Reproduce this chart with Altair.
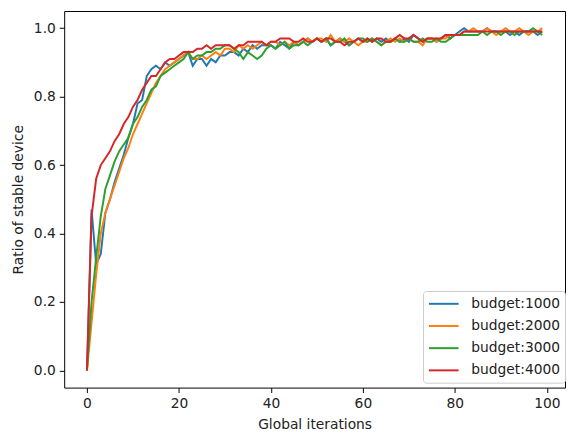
import altair as alt
import pandas as pd

iterations = list(range(100))

budget_1000 = [
    0.00, 0.47, 0.31, 0.34, 0.46, 0.50, 0.55, 0.59, 0.63, 0.68,
    0.72, 0.78, 0.79, 0.86, 0.88, 0.89, 0.88, 0.90, 0.89, 0.90,
    0.91, 0.92, 0.93, 0.89, 0.91, 0.91, 0.89, 0.91, 0.90, 0.92,
    0.92, 0.93, 0.93, 0.92, 0.94, 0.93, 0.95, 0.94, 0.95, 0.95,
    0.95, 0.94, 0.96, 0.95, 0.94, 0.96, 0.95, 0.96, 0.97, 0.96,
    0.97, 0.96, 0.97, 0.95, 0.96, 0.97, 0.96, 0.95, 0.96, 0.97,
    0.96, 0.97, 0.96, 0.97, 0.96, 0.97, 0.96, 0.97, 0.96, 0.97,
    0.96, 0.98, 0.97, 0.96, 0.97, 0.97, 0.96, 0.97, 0.98, 0.97,
    0.98, 0.99, 1.00, 0.99, 0.99, 0.99, 0.99, 1.00, 0.99, 0.99,
    0.99, 0.99, 0.98, 0.99, 0.98, 0.99, 0.99, 0.99, 0.98, 0.99,
]
budget_2000 = [
    0.00, 0.14, 0.28, 0.40, 0.46, 0.50, 0.54, 0.58, 0.62, 0.65,
    0.69, 0.72, 0.75, 0.78, 0.81, 0.84, 0.86, 0.88, 0.89, 0.90,
    0.91, 0.92, 0.93, 0.91, 0.91, 0.92, 0.91, 0.92, 0.93, 0.92,
    0.94, 0.94, 0.93, 0.95, 0.94, 0.95, 0.94, 0.95, 0.96, 0.95,
    0.96, 0.96, 0.95, 0.96, 0.95, 0.96, 0.95, 0.96, 0.97, 0.96,
    0.97, 0.97, 0.96, 0.98, 0.96, 0.97, 0.96, 0.97, 0.96, 0.95,
    0.96, 0.96, 0.97, 0.96, 0.95, 0.96, 0.97, 0.96, 0.97, 0.96,
    0.97, 0.96, 0.96, 0.95, 0.97, 0.97, 0.96, 0.97, 0.97, 0.98,
    0.98, 0.98, 0.99, 0.99, 1.00, 0.99, 0.99, 1.00, 0.99, 0.98,
    0.99, 1.00, 0.99, 0.99, 1.00, 0.99, 0.98, 0.99, 0.99, 1.00,
]
budget_3000 = [
    0.00, 0.20, 0.33, 0.45, 0.53, 0.57, 0.61, 0.64, 0.66, 0.68,
    0.72, 0.74, 0.77, 0.79, 0.82, 0.83, 0.86, 0.87, 0.88, 0.89,
    0.90, 0.91, 0.93, 0.91, 0.92, 0.92, 0.93, 0.93, 0.94, 0.94,
    0.95, 0.95, 0.94, 0.93, 0.91, 0.93, 0.92, 0.91, 0.92, 0.94,
    0.95, 0.94, 0.95, 0.96, 0.94, 0.95, 0.95, 0.96, 0.95, 0.96,
    0.97, 0.96, 0.97, 0.95, 0.96, 0.96, 0.97, 0.95, 0.96, 0.97,
    0.97, 0.96, 0.97, 0.96, 0.95, 0.96, 0.96, 0.97, 0.96, 0.96,
    0.97, 0.96, 0.96, 0.97, 0.96, 0.96, 0.97, 0.96, 0.96, 0.97,
    0.98, 0.98, 0.98, 0.98, 0.98, 0.98, 0.99, 0.98, 0.99, 0.99,
    0.98, 0.99, 0.99, 0.98, 0.99, 0.99, 0.99, 1.00, 0.99, 0.98,
]
budget_4000 = [
    0.00, 0.45, 0.56, 0.60, 0.62, 0.64, 0.67, 0.69, 0.72, 0.74,
    0.77, 0.79, 0.82, 0.84, 0.86, 0.86, 0.88, 0.90, 0.91, 0.91,
    0.92, 0.93, 0.93, 0.93, 0.94, 0.94, 0.95, 0.94, 0.95, 0.95,
    0.95, 0.95, 0.94, 0.95, 0.95, 0.96, 0.96, 0.96, 0.96, 0.95,
    0.96, 0.96, 0.97, 0.97, 0.97, 0.96, 0.96, 0.97, 0.96, 0.96,
    0.97, 0.96, 0.97, 0.97, 0.96, 0.96, 0.95, 0.96, 0.96, 0.97,
    0.96, 0.97, 0.96, 0.97, 0.97, 0.96, 0.96, 0.97, 0.98, 0.97,
    0.97, 0.98, 0.97, 0.96, 0.97, 0.97, 0.97, 0.97, 0.98, 0.98,
    0.98, 0.98, 0.99, 0.99, 0.99, 0.99, 0.99, 0.99, 0.99, 0.99,
    0.99, 0.99, 0.99, 0.99, 0.99, 0.99, 0.99, 0.99, 0.99, 0.99,
]

series_names = ["budget:1000", "budget:2000", "budget:3000", "budget:4000"]
series_values = [budget_1000, budget_2000, budget_3000, budget_4000]
colors = ["#1f77b4", "#ff7f0e", "#2ca02c", "#d62728"]

rows = []
for k, (name, vals) in enumerate(zip(series_names, series_values)):
    for i, v in zip(iterations, vals):
        rows.append({"iter": i, "ratio": v, "series": name, "k": k})
df = pd.DataFrame(rows)

FONT = "DejaVu Sans"
FS = 14

chart = alt.Chart(df).mark_line(strokeWidth=2).encode(
    x=alt.X("iter:Q", title="Global iterations",
            scale=alt.Scale(domain=[-4.95, 103.95], nice=False, zero=False),
            axis=alt.Axis(values=[0, 20, 40, 60, 80, 100], grid=False,
                          tickColor="black", domain=False, tickSize=5,
                          labelFontSize=FS, titleFontSize=FS, labelPadding=4,
                          titlePadding=7, labelColor="#222", titleColor="#222",
                          titleFontWeight="normal", labelFont=FONT, titleFont=FONT)),
    y=alt.Y("ratio:Q", title="Ratio of stable device",
            scale=alt.Scale(domain=[-0.05, 1.05], nice=False, zero=False),
            axis=alt.Axis(values=[0, 0.2, 0.4, 0.6, 0.8, 1.0], format=".1f", grid=False,
                          tickColor="black", domain=False, tickSize=5,
                          labelFontSize=FS, titleFontSize=FS, labelPadding=4,
                          titlePadding=8, labelColor="#222", titleColor="#222",
                          titleFontWeight="normal", labelFont=FONT, titleFont=FONT)),
    color=alt.Color("series:N", title=None,
                    scale=alt.Scale(domain=series_names, range=colors),
                    legend=alt.Legend(orient="none", legendX=364, legendY=284,
                                      symbolType="M-1,0L3.29,0", symbolStrokeWidth=2,
                                      symbolSize=196, labelFontSize=FS, labelFont=FONT,
                                      labelColor="#222", rowPadding=7.5,
                                      fillColor="white", strokeColor="#cccccc",
                                      padding=5, cornerRadius=3, labelOffset=28)),
    order=alt.Order("k:Q"),
    detail="series:N",
).properties(
    width=508, height=382,
    autosize=alt.AutoSizeParams(type="none"),
    padding={"left": 57, "top": 0, "right": 1, "bottom": 44},
).configure_view(stroke="black", strokeWidth=1)

chart.save("out.html", embed_options={"renderer": "svg", "actions": False})
